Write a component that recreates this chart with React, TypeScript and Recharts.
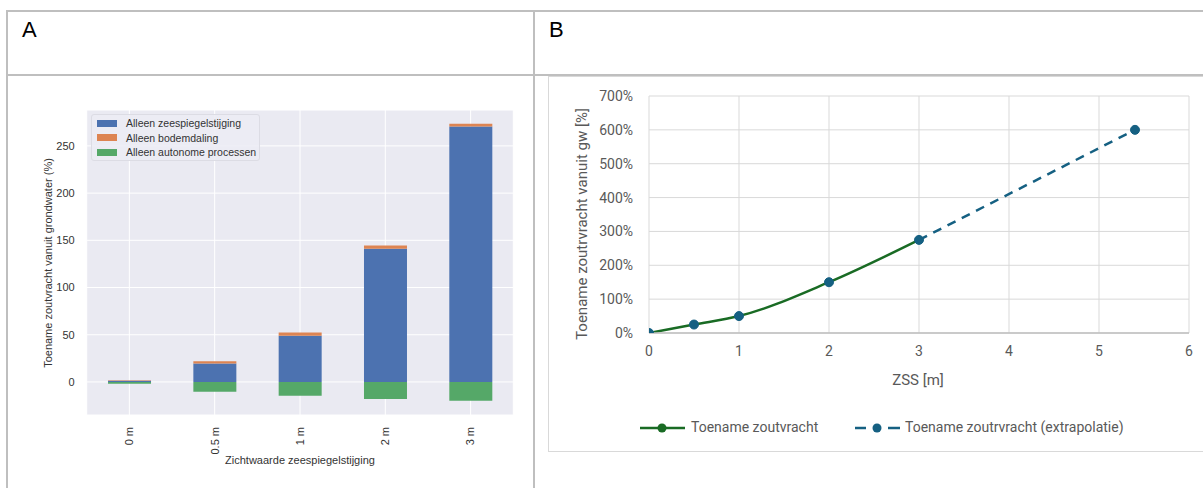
import React from 'react';
import {
  BarChart, Bar, XAxis, YAxis, CartesianGrid,
  LineChart, Line,
} from 'recharts';

// ---------- Panel A data ----------
const categoriesA = ['0 m', '0.5 m', '1 m', '2 m', '3 m'];
const zeespiegelstijging = [1.2, 19.5, 49, 141, 270.5];
const bodemdaling = [0.5, 2.5, 3.5, 3.5, 3];
const autonomeProcessen = [-2, -10.5, -14.5, -18, -20];
const ticksA = [0, 50, 100, 150, 200, 250];
const seriesNamesA = ['Alleen zeespiegelstijging', 'Alleen bodemdaling', 'Alleen autonome processen'];
const colorsA = ['#4C72B0', '#DD8452', '#55A868'];

// ---------- Panel B data ----------
const zssX = [0, 0.5, 1, 2, 3];
const zoutvracht = [0, 25, 50, 150, 275];
const extrapolatieX = [3, 5.4];
const extrapolatieY = [275, 600];
const ticksBx = [0, 1, 2, 3, 4, 5, 6];
const ticksBy = [0, 100, 200, 300, 400, 500, 600, 700];
const seriesNamesB = ['Toename zoutvracht', 'Toename zoutrvracht (extrapolatie)'];

const dataA = categoriesA.map((c, i) => ({
  cat: c,
  zee: zeespiegelstijging[i],
  bodem: bodemdaling[i],
  auto: autonomeProcessen[i],
}));
const dataGreen = zssX.map((x, i) => ({ x, y: zoutvracht[i] }));
const dataExtra = extrapolatieX.map((x, i) => ({ x, y: extrapolatieY[i] }));
const dataMarkers = [...dataGreen, dataExtra[1]];

const GREEN = '#196B24';
const TEAL = '#156082';
const AX_GREY = '#595959';
const fontA = '"Liberation Sans", Arial, sans-serif';
const fontB = 'Roboto, "Noto Sans", sans-serif';

const RotTick = (props: any) => {
  const { x, y, payload } = props;
  const yy = y + 4;
  return (
    <text x={x} y={yy} transform={`rotate(-90, ${x}, ${yy})`} textAnchor="end" dy="0.35em"
      fontSize={11} fill="#333" fontFamily={fontA}>{payload.value}</text>
  );
};

const LegendA = () => (
  <div style={{
    position: 'absolute', left: 91, top: 114, width: 169, height: 47, background: 'rgba(236,236,244,0.9)',
    border: '1px solid #dcdce4', borderRadius: 3, boxSizing: 'border-box', paddingTop: 1,
    fontFamily: fontA, fontSize: 10.5, color: '#333',
  }}>
    {seriesNamesA.map((n, i) => (
      <div key={n} style={{ display: 'flex', alignItems: 'center', height: 14.5, whiteSpace: 'nowrap' }}>
        <span style={{ display: 'inline-block', width: 20, height: 7, background: colorsA[i], marginLeft: 5, marginRight: 9, flex: 'none' }} />
        <span>{n}</span>
      </div>
    ))}
  </div>
);

const LegendB = () => (
  <div style={{ position: 'absolute', left: 640, top: 418, width: 560, height: 20, fontFamily: fontB, fontSize: 14, color: AX_GREY }}>
    <svg width={50} height={20} style={{ position: 'absolute', left: 0, top: 0 }}>
      <line x1={0} y1={10} x2={45} y2={10} stroke={GREEN} strokeWidth={2.5} />
      <circle cx={22} cy={10} r={4.5} fill={GREEN} />
    </svg>
    <span style={{ position: 'absolute', left: 51, top: 1, whiteSpace: 'nowrap' }}>{seriesNamesB[0]}</span>
    <svg width={50} height={20} style={{ position: 'absolute', left: 215, top: 0 }}>
      <line x1={0} y1={10} x2={11} y2={10} stroke={TEAL} strokeWidth={2.5} />
      <circle cx={22} cy={10} r={4.5} fill={TEAL} />
      <line x1={33} y1={10} x2={45} y2={10} stroke={TEAL} strokeWidth={2.5} />
    </svg>
    <span style={{ position: 'absolute', left: 265, top: 1, whiteSpace: 'nowrap' }}>{seriesNamesB[1]}</span>
  </div>
);

const lineStyle = (s: React.CSSProperties): React.CSSProperties => ({ position: 'absolute', background: '#BFBFBF', ...s });

export default function App() {
  return (
    <div style={{ position: 'fixed', left: 0, top: 0, width: 1203, height: 488, background: '#fff', overflow: 'hidden' }}>
      {/* table borders */}
      <div style={lineStyle({ left: 7, top: 10, width: 1200, height: 2 })} />
      <div style={lineStyle({ left: 7, top: 74, width: 1200, height: 2 })} />
      <div style={lineStyle({ left: 6, top: 10, width: 2, height: 480 })} />
      <div style={lineStyle({ left: 533, top: 10, width: 2, height: 480 })} />
      <div style={{ position: 'absolute', left: 22, top: 17, fontFamily: fontA, fontSize: 22, color: '#000' }}>A</div>
      <div style={{ position: 'absolute', left: 549, top: 17, fontFamily: fontA, fontSize: 22, color: '#000' }}>B</div>

      {/* Panel A */}
      <div style={{ position: 'absolute', left: 0, top: 0 }}>
        <BarChart width={530} height={488} data={dataA} stackOffset="sign" barCategoryGap="25%"
          margin={{ top: 110, right: 16.7, bottom: 33, left: 0 }}>
          <CartesianGrid fill="#EAEAF2" stroke="#fff" strokeWidth={1} vertical horizontal />
          <XAxis dataKey="cat" tick={<RotTick />} tickLine={false} axisLine={false} height={40} interval={0} />
          <YAxis width={86.7} domain={[-35, 288]} ticks={ticksA} allowDataOverflow tickLine={false} axisLine={false}
            tickSize={0} tickMargin={12} tick={{ fontSize: 11, fill: '#333', fontFamily: fontA }} />
          <Bar dataKey="zee" stackId="a" fill={colorsA[0]} name={seriesNamesA[0]} isAnimationActive={false} />
          <Bar dataKey="bodem" stackId="a" fill={colorsA[1]} name={seriesNamesA[1]} isAnimationActive={false} />
          <Bar dataKey="auto" stackId="a" fill={colorsA[2]} name={seriesNamesA[2]} isAnimationActive={false} />
        </BarChart>
      </div>
      <LegendA />
      <div style={{ position: 'absolute', left: 48, top: 263, transform: 'translate(-50%, -50%) rotate(-90deg)',
        whiteSpace: 'nowrap', fontFamily: fontA, fontSize: 11, color: '#333' }}>
        Toename zoutvracht vanuit grondwater (%)
      </div>
      <div style={{ position: 'absolute', left: 300, top: 460, transform: 'translate(-50%, -50%)',
        whiteSpace: 'nowrap', fontFamily: fontA, fontSize: 11, color: '#333' }}>
        Zichtwaarde zeespiegelstijging
      </div>

      {/* Panel B */}
      <div style={{ position: 'absolute', left: 548, top: 76, width: 700, height: 376, border: '1px solid #D9D9D9', boxSizing: 'border-box' }} />
      <div style={{ position: 'absolute', left: 548, top: 76 }}>
        <LineChart width={655} height={376} margin={{ top: 20, right: 14, bottom: 89, left: 0 }}>
          <CartesianGrid stroke="#D9D9D9" strokeWidth={1} vertical horizontal />
          <XAxis type="number" dataKey="x" domain={[0, 6]} ticks={ticksBx} allowDataOverflow
            tickLine={false} tickSize={0} tickMargin={13} axisLine={{ stroke: '#BFBFBF', strokeWidth: 1.5 }} height={30}
            tick={{ fontSize: 14, fill: AX_GREY, fontFamily: fontB }} />
          <YAxis type="number" dataKey="y" domain={[0, 700]} ticks={ticksBy} width={101} allowDataOverflow
            tickLine={false} axisLine={false} tickSize={0} tickMargin={16} tickFormatter={(v: number) => `${v}%`}
            tick={{ fontSize: 14, fill: AX_GREY, fontFamily: fontB }} />
          <Line data={dataExtra} dataKey="y" type="linear" stroke={TEAL} strokeWidth={2.5} strokeDasharray="9 7"
            dot={false} isAnimationActive={false} name={seriesNamesB[1]} />
          <Line data={dataGreen} dataKey="y" type="monotone" stroke={GREEN} strokeWidth={2.5}
            dot={false} isAnimationActive={false} name={seriesNamesB[0]} />
          <Line data={dataMarkers} dataKey="y" type="linear" stroke="none" legendType="none"
            dot={{ r: 4.5, fill: TEAL, stroke: TEAL, strokeWidth: 1 }} isAnimationActive={false} />
        </LineChart>
      </div>
      <LegendB />
      <div style={{ position: 'absolute', left: 582, top: 224, transform: 'translate(-50%, -50%) rotate(-90deg)',
        whiteSpace: 'nowrap', fontFamily: fontB, fontSize: 15, color: AX_GREY }}>
        Toename zoutrvracht vanuit gw [%]
      </div>
      <div style={{ position: 'absolute', left: 918, top: 380, transform: 'translate(-50%, -50%)',
        whiteSpace: 'nowrap', fontFamily: fontB, fontSize: 15, color: AX_GREY }}>
        ZSS [m]
      </div>
    </div>
  );
}
